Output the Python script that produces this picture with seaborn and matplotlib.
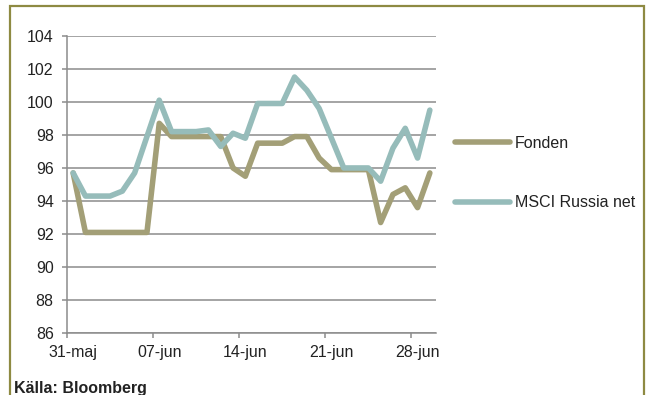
import numpy as np
import pandas as pd
import matplotlib
matplotlib.use("Agg")
import matplotlib.pyplot as plt
import matplotlib.patches as mpatches
import seaborn as sns

# ---- data ----
day_index = list(range(30))  # daily observations from 31-maj
fonden = [95.7, 92.1, 92.1, 92.1, 92.1, 92.1, 92.1, 98.7, 97.9, 97.9,
          97.9, 97.9, 97.9, 96.0, 95.5, 97.5, 97.5, 97.5, 97.9, 97.9,
          96.6, 95.9, 95.9, 95.9, 95.9, 92.7, 94.4, 94.8, 93.6, 95.7]
msci = [95.7, 94.3, 94.3, 94.3, 94.6, 95.7, 97.9, 100.1, 98.2, 98.2,
        98.2, 98.3, 97.3, 98.1, 97.8, 99.9, 99.9, 99.9, 101.5, 100.7,
        99.6, 97.8, 96.0, 96.0, 96.0, 95.2, 97.2, 98.4, 96.6, 99.5]
series_names = ["Fonden", "MSCI Russia net"]
x_tick_labels = ["31-maj", "07-jun", "14-jun", "21-jun", "28-jun"]
x_tick_pos = [0, 7, 14, 21, 28]
y_ticks = [86, 88, 90, 92, 94, 96, 98, 100, 102, 104]
source_text = "Källa: Bloomberg"

colors = ["#A39F77", "#96BCBA"]
border_color = "#8E8A42"
grid_color = "#8C8C8C"
text_color = "#222222"
FS = 11.5
LW = 4.0

sns.set_style("white")
plt.rcParams["font.family"] = ["Liberation Sans", "DejaVu Sans"]

df = pd.DataFrame({
    "day": np.array(day_index * 2) + 0.5,
    "value": fonden + msci,
    "series": [series_names[0]] * len(fonden) + [series_names[1]] * len(msci),
})

W, H = 652, 395
fig = plt.figure(figsize=(W / 100, H / 100), dpi=100)
ax = fig.add_axes([67 / W, 1 - 333.3 / H, (436 - 67) / W, (333.3 - 35.7) / H])

sns.lineplot(data=df, x="day", y="value", hue="series", palette=colors,
             linewidth=LW, ax=ax, legend=False, sort=False)

ax.set_xlim(0, 30)
ax.set_ylim(86, 104)
ax.set_yticks(y_ticks)
ax.set_yticklabels([str(v) for v in y_ticks])
# tick marks at day boundaries, labels centred on the day slot
ax.set_xticks(x_tick_pos)
ax.set_xticklabels([""] * len(x_tick_pos))
ax.set_xticks([p + 0.5 for p in x_tick_pos], minor=True)
ax.set_xticklabels(x_tick_labels, minor=True)
ax.set_xlabel("")
ax.set_ylabel("")
ax.yaxis.grid(True, color=grid_color, linewidth=1.1)
ax.xaxis.grid(False)
ax.set_axisbelow(True)
for s in ["top", "right"]:
    ax.spines[s].set_visible(False)
for s in ["left", "bottom"]:
    ax.spines[s].set_color(grid_color)
    ax.spines[s].set_linewidth(1.1)
ax.tick_params(axis="both", which="major", direction="out", length=3.6,
               width=1.1, color=grid_color, labelsize=FS, labelcolor=text_color)
ax.tick_params(axis="y", which="major", left=True, pad=6)
ax.tick_params(axis="x", which="major", bottom=True)
ax.tick_params(axis="x", which="minor", bottom=True, length=0, labelsize=FS,
               labelcolor=text_color, pad=8.4)

handles = [plt.Line2D([], [], color=c, linewidth=LW, solid_capstyle="round") for c in colors]
fig.legend(handles, series_names, loc="center left",
           bbox_to_anchor=(455 / W, 1 - 173 / H), bbox_transform=fig.transFigure,
           frameon=False, fontsize=FS, handlelength=3.44, handletextpad=0.31,
           labelspacing=2.8, borderpad=0, borderaxespad=0, labelcolor=text_color)

fig.text(14 / W, 1 - 393 / H, source_text, fontsize=FS, fontweight="bold",
         color=text_color, ha="left", va="baseline")

rect = mpatches.Rectangle((10 / W, -0.05), (644 - 10) / W, 1.05 - 6 / H,
                          transform=fig.transFigure, fill=False,
                          edgecolor=border_color, linewidth=1.6)
fig.add_artist(rect)

fig.savefig("out.png", dpi=100)
